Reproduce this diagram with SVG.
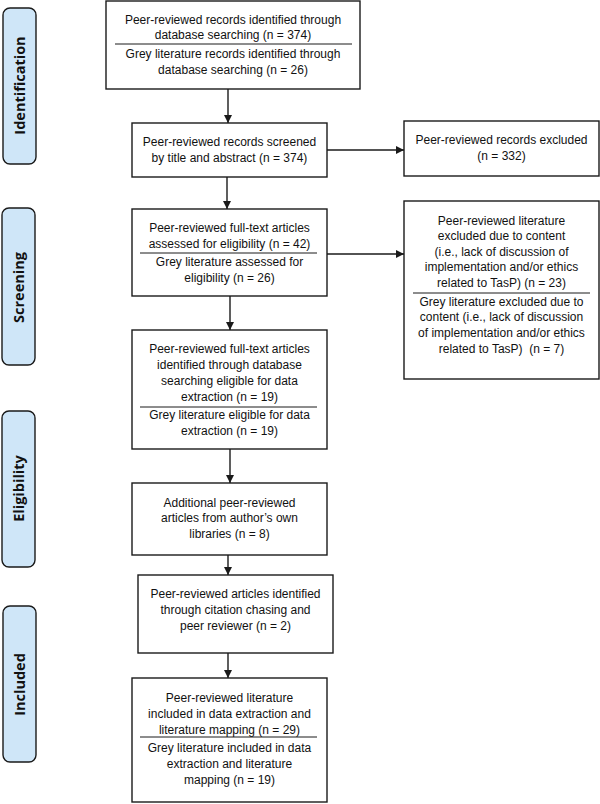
<svg xmlns="http://www.w3.org/2000/svg" width="600" height="804" viewBox="0 0 600 804">
<style>
  .bg { fill: #ffffff; }
  .box { fill: #ffffff; stroke: #1a1a1a; stroke-width: 1.4; }
  .div { stroke: #1a1a1a; stroke-width: 1; }
  .stage { fill: #cfe6f8; stroke: #1a1a1a; stroke-width: 1.4; }
  .t { font-family: "Liberation Sans", Arial, sans-serif; font-size: 12px; fill: #111; text-anchor: middle; }
  .st { font-family: "Open Sans", "Liberation Sans", sans-serif; font-size: 14.5px; font-weight: bold; fill: #111; text-anchor: middle; }
  .conn { stroke: #1a1a1a; stroke-width: 1.4; fill: none; marker-end: url(#arr); }
</style>
<defs>
  <marker id="arr" viewBox="0 0 10 10" refX="10" refY="5" markerWidth="8" markerHeight="8" markerUnits="userSpaceOnUse" orient="auto">
    <path d="M0,0 L10,5 L0,10 Z" fill="#1a1a1a"/>
  </marker>
</defs>
<rect class="bg" x="0" y="0" width="600" height="804"/>

<g id="stage-identification">
  <rect class="stage" x="3" y="8" width="33" height="156" rx="7"/>
  <text class="st" transform="translate(25,85.5) rotate(-90)">Identification</text>
</g>
<g id="stage-screening">
  <rect class="stage" x="2" y="208" width="33" height="157" rx="7"/>
  <text class="st" transform="translate(24,287.5) rotate(-90)">Screening</text>
</g>
<g id="stage-eligibility">
  <rect class="stage" x="2" y="411" width="33" height="156" rx="7"/>
  <text class="st" transform="translate(24,488.5) rotate(-90)">Eligibility</text>
</g>
<g id="stage-included">
  <rect class="stage" x="3" y="606" width="33" height="156" rx="7"/>
  <text class="st" transform="translate(25,684.5) rotate(-90)">Included</text>
</g>

<g id="connectors">
  <line class="conn" x1="228" y1="89" x2="228" y2="123"/>
  <line class="conn" x1="327" y1="150" x2="404" y2="150"/>
  <line class="conn" x1="227" y1="177" x2="227" y2="209"/>
  <line class="conn" x1="327" y1="254" x2="404" y2="254"/>
  <line class="conn" x1="230" y1="296" x2="230" y2="330"/>
  <line class="conn" x1="230" y1="449" x2="230" y2="483"/>
  <line class="conn" x1="228" y1="555" x2="228" y2="575"/>
  <line class="conn" x1="228" y1="640" x2="228" y2="678"/>
</g>

<g id="n-identified">
  <rect class="box" x="106" y="1" width="254" height="88"/>
  <line class="div" x1="115" y1="44" x2="352" y2="44"/>
  <text class="t" x="233" y="24">Peer-reviewed records identified through</text>
  <text class="t" x="233" y="39">database searching (n = 374)</text>
  <text class="t" x="233" y="58">Grey literature records identified through</text>
  <text class="t" x="233" y="74">database searching (n = 26)</text>
</g>

<g id="n-screened">
  <rect class="box" x="132" y="123" width="195" height="54"/>
  <text class="t" x="229.5" y="146">Peer-reviewed records screened</text>
  <text class="t" x="229.5" y="162">by title and abstract (n = 374)</text>
</g>

<g id="n-excluded1">
  <rect class="box" x="404" y="121" width="195" height="55"/>
  <text class="t" x="501.5" y="144">Peer-reviewed records excluded</text>
  <text class="t" x="501.5" y="160">(n = 332)</text>
</g>

<g id="n-assessed">
  <rect class="box" x="132" y="209" width="195" height="87"/>
  <line class="div" x1="140" y1="253" x2="317" y2="253"/>
  <text class="t" x="229.5" y="232">Peer-reviewed full-text articles</text>
  <text class="t" x="229.5" y="248">assessed for eligibility (n = 42)</text>
  <text class="t" x="229.5" y="266">Grey literature assessed for</text>
  <text class="t" x="229.5" y="282">eligibility (n = 26)</text>
</g>

<g id="n-excluded2">
  <rect class="box" x="404" y="201" width="195" height="178"/>
  <line class="div" x1="413" y1="293" x2="590" y2="293"/>
  <text class="t" x="501.5" y="225">Peer-reviewed literature</text>
  <text class="t" x="501.5" y="240">excluded due to content</text>
  <text class="t" x="501.5" y="256">(i.e., lack of discussion of</text>
  <text class="t" x="501.5" y="271">implementation and/or ethics</text>
  <text class="t" x="501.5" y="287">related to TasP) (n = 23)</text>
  <text class="t" x="501.5" y="306">Grey literature excluded due to</text>
  <text class="t" x="501.5" y="321">content (i.e., lack of discussion</text>
  <text class="t" x="501.5" y="337">of implementation and/or ethics</text>
  <text class="t" x="501.5" y="353" xml:space="preserve">related to TasP)  (n = 7)</text>
</g>

<g id="n-eligible">
  <rect class="box" x="132" y="330" width="195" height="119"/>
  <line class="div" x1="140" y1="407" x2="317" y2="407"/>
  <text class="t" x="229.5" y="353">Peer-reviewed full-text articles</text>
  <text class="t" x="229.5" y="369">identified through database</text>
  <text class="t" x="229.5" y="385">searching eligible for data</text>
  <text class="t" x="229.5" y="401">extraction (n = 19)</text>
  <text class="t" x="229.5" y="419">Grey literature eligible for data</text>
  <text class="t" x="229.5" y="435">extraction (n = 19)</text>
</g>

<g id="n-additional">
  <rect class="box" x="132" y="483" width="195" height="72"/>
  <text class="t" x="229.5" y="507">Additional peer-reviewed</text>
  <text class="t" x="229.5" y="522">articles from author’s own</text>
  <text class="t" x="229.5" y="538">libraries (n = 8)</text>
</g>

<g id="n-citation">
  <rect class="box" x="138" y="575" width="195" height="78"/>
  <text class="t" x="235.5" y="598">Peer-reviewed articles identified</text>
  <text class="t" x="235.5" y="614">through citation chasing and</text>
  <text class="t" x="235.5" y="630">peer reviewer (n = 2)</text>
</g>

<g id="n-included">
  <rect class="box" x="132" y="678" width="195" height="124"/>
  <line class="div" x1="140" y1="737" x2="317" y2="737"/>
  <text class="t" x="229.5" y="702">Peer-reviewed literature</text>
  <text class="t" x="229.5" y="718">included in data extraction and</text>
  <text class="t" x="229.5" y="734">literature mapping (n = 29)</text>
  <text class="t" x="229.5" y="752">Grey literature included in data</text>
  <text class="t" x="229.5" y="768">extraction and literature</text>
  <text class="t" x="229.5" y="784">mapping (n = 19)</text>
</g>
</svg>
